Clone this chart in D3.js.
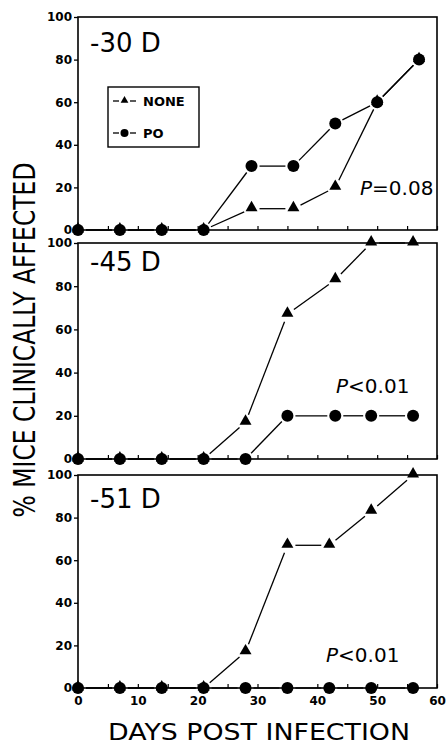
<!DOCTYPE html>
<html>
<head>
<meta charset="utf-8">
<script src="https://cdn.jsdelivr.net/npm/d3@7"></script>
<style>
  html, body { margin: 0; padding: 0; background: #fff; }
  svg { display: block; }
</style>
</head>
<body>
<div id="chart"></div>
<script>
// data
const days30 = [0, 7, 14, 21, 29, 36, 43, 50, 57];
const days45 = [0, 7, 14, 21, 28, 35, 43, 49, 56];
const days51 = [0, 7, 14, 21, 28, 35, 42, 49, 56];
const none30 = [0, 0, 0, 0, 10, 10, 20, 60, 80];
const po30 = [0, 0, 0, 0, 30, 30, 50, 60, 80];
const none45 = [0, 0, 0, 0, 17, 67, 83, 100, 100];
const po45 = [0, 0, 0, 0, 0, 20, 20, 20, 20];
const none51 = [0, 0, 0, 0, 17, 67, 67, 83, 100];
const po51 = [0, 0, 0, 0, 0, 0, 0, 0, 0];
const panelNames = ['-30 D', '-45 D', '-51 D'];
const pValues = ['=0.08', '<0.01', '<0.01'];
const seriesNames = ['NONE', 'PO'];
const yTicks = [0, 20, 40, 60, 80, 100];
const xTicks = [0, 10, 20, 30, 40, 50, 60];
const xMinor = d3.range(0, 61, 5);

const W = 448, H = 746;
const svg = d3.select('#chart').append('svg')
    .attr('width', W).attr('height', H);

// layout of the three stacked panels
const left = 78, right = 437;
const tops = [17, 243, 475];
const bottoms = [230, 459, 688];
const nameY = [52, 271, 508];
const pPos = [[360, 195], [336, 393], [326, 662]];

const panels = [
    {days: days30, none: none30, po: po30},
    {days: days45, none: none45, po: po45},
    {days: days51, none: none51, po: po51}
];

const x = d3.scaleLinear().domain([0, 60]).range([left, right]);
const tri = d3.symbol(d3.symbolTriangle, 62)();

// line between two markers, stopping short of both
function gapLine(g, pts, gap) {
    for (let i = 0; i < pts.length - 1; i++) {
        let a = pts[i], b = pts[i + 1];
        let dx = b[0] - a[0], dy = b[1] - a[1];
        let len = Math.sqrt(dx * dx + dy * dy);
        if (len < gap * 2 + 1) continue;
        let ux = dx / len, uy = dy / len;
        g.append('line')
            .attr('x1', a[0] + ux * gap).attr('y1', a[1] + uy * gap)
            .attr('x2', b[0] - ux * gap).attr('y2', b[1] - uy * gap)
            .attr('stroke', '#000').attr('stroke-width', 1.3);
    }
}

panels.forEach(function (p, i) {
    let y = d3.scaleLinear().domain([0, 100]).range([bottoms[i], tops[i]]);
    let g = svg.append('g');

    // y axis labels, outward ticks
    let yAxis = d3.axisLeft(y).tickValues(yTicks).tickSize(4).tickPadding(2);
    let ya = g.append('g').attr('transform', 'translate(' + left + ',0)').call(yAxis);
    ya.select('.domain').remove();
    ya.selectAll('line').attr('stroke', '#000').attr('stroke-width', 1.3);
    ya.selectAll('text')
        .attr('font-family', 'DejaVu Sans').attr('font-weight', 'bold')
        .attr('font-size', 12).attr('fill', '#000');

    // x axis, inward ticks every 5 days
    let xAxis = d3.axisTop(x).tickValues(xMinor).tickSize(4).tickFormat('');
    let xa = g.append('g').attr('transform', 'translate(0,' + bottoms[i] + ')').call(xAxis);
    xa.select('.domain').remove();
    xa.selectAll('line').attr('stroke', '#000').attr('stroke-width', 1.2);

    if (i === 2) {
        let xl = d3.axisBottom(x).tickValues(xTicks).tickSize(0).tickPadding(8);
        let xb = g.append('g').attr('transform', 'translate(0,' + bottoms[i] + ')').call(xl);
        xb.select('.domain').remove();
        xb.selectAll('text')
            .attr('font-family', 'DejaVu Sans').attr('font-weight', 'bold')
            .attr('font-size', 12).attr('fill', '#000');
    }

    // frame
    g.append('rect')
        .attr('x', left).attr('y', tops[i])
        .attr('width', right - left).attr('height', bottoms[i] - tops[i])
        .attr('fill', 'none').attr('stroke', '#000').attr('stroke-width', 1.6);

    // NONE series (triangles) under PO series (circles)
    let nonePts = p.days.map((d, k) => [x(d), y(p.none[k])]);
    let poPts = p.days.map((d, k) => [x(d), y(p.po[k])]);
    gapLine(g, nonePts, 8);
    gapLine(g, poPts, 8);

    g.selectAll('.tri').data(nonePts).enter().append('path')
        .attr('d', tri)
        .attr('transform', d => 'translate(' + d[0] + ',' + (d[1] - 1) + ')')
        .attr('fill', '#000');
    g.selectAll('.dot').data(poPts).enter().append('circle')
        .attr('cx', d => d[0]).attr('cy', d => d[1]).attr('r', 6)
        .attr('fill', '#000');

    // panel name
    g.append('text')
        .attr('x', 90).attr('y', nameY[i])
        .attr('font-family', 'DejaVu Sans').attr('font-size', 26)
        .attr('fill', '#000')
        .text(panelNames[i]);

    // P value
    let pt = g.append('text')
        .attr('x', pPos[i][0]).attr('y', pPos[i][1])
        .attr('font-family', 'DejaVu Sans').attr('font-size', 20)
        .attr('fill', '#000');
    pt.append('tspan').attr('font-style', 'italic').text('P');
    pt.append('tspan').text(pValues[i]);
});

// legend in the top panel
const lg = svg.append('g');
lg.append('rect')
    .attr('x', 108).attr('y', 87).attr('width', 91).attr('height', 60)
    .attr('fill', '#fff').attr('stroke', '#000').attr('stroke-width', 1.4);
seriesNames.forEach(function (s, k) {
    let cy = k === 0 ? 101 : 133;
    lg.append('line')
        .attr('x1', 113).attr('x2', 119).attr('y1', cy).attr('y2', cy)
        .attr('stroke', '#000').attr('stroke-width', 1.3);
    lg.append('line')
        .attr('x1', 130).attr('x2', 136).attr('y1', cy).attr('y2', cy)
        .attr('stroke', '#000').attr('stroke-width', 1.3);
    if (k === 0) {
        lg.append('path').attr('d', d3.symbol(d3.symbolTriangle, 26)())
            .attr('transform', 'translate(124.5,' + (cy - 0.5) + ')').attr('fill', '#000');
    } else {
        lg.append('circle').attr('cx', 124.5).attr('cy', cy).attr('r', 4).attr('fill', '#000');
    }
    lg.append('text')
        .attr('x', 143).attr('y', cy + 5)
        .attr('font-family', 'DejaVu Sans').attr('font-weight', 'bold')
        .attr('font-size', 13).attr('fill', '#000')
        .text(s);
});

// axis titles
svg.append('text')
    .attr('transform', 'translate(35,340) rotate(-90)')
    .attr('text-anchor', 'middle')
    .attr('font-family', 'DejaVu Sans').attr('font-size', 30)
    .attr('textLength', 355).attr('lengthAdjust', 'spacingAndGlyphs')
    .attr('fill', '#000')
    .text('% MICE CLINICALLY AFFECTED');

svg.append('text')
    .attr('x', 259).attr('y', 740)
    .attr('text-anchor', 'middle')
    .attr('font-family', 'DejaVu Sans').attr('font-size', 23)
    .attr('textLength', 302).attr('lengthAdjust', 'spacingAndGlyphs')
    .attr('fill', '#000')
    .text('DAYS POST INFECTION');
</script>
</body>
</html>
